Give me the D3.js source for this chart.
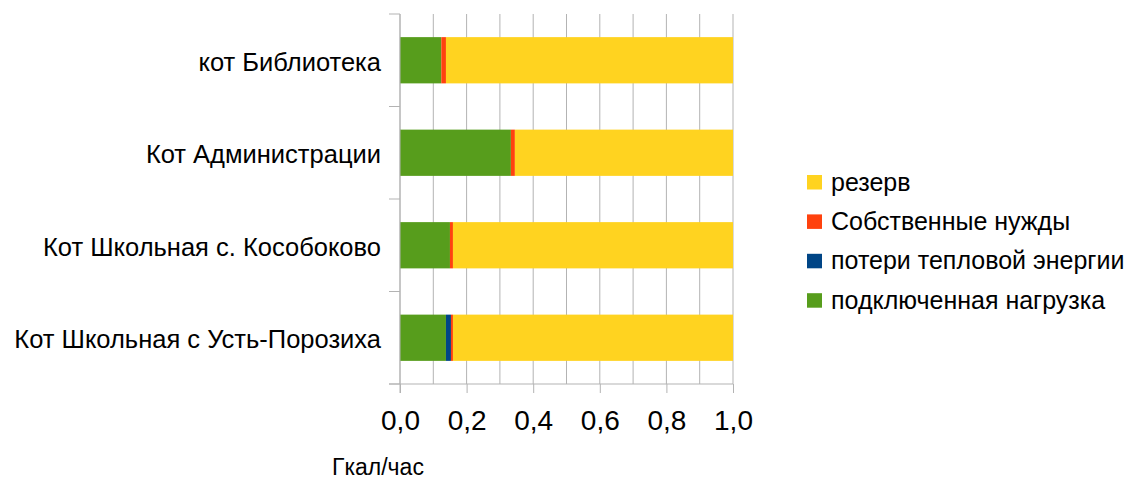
<!DOCTYPE html>
<html>
<head>
<meta charset="utf-8">
<script src="https://cdn.jsdelivr.net/npm/d3@7"></script>
<style>
  body { margin: 0; background: #fff; }
  svg { display: block; font-family: "Liberation Sans", Arial, sans-serif; }
</style>
</head>
<body>
<div id="container"></div>
<script>
let w = 1128;
let h = 479;

// data
let categories = ["кот Библиотека", "Кот Администрации", "Кот Школьная с. Кособоково", "Кот Школьная с Усть-Порозиха"];
let connectedLoad = [0.124, 0.333, 0.150, 0.138];
let heatLosses = [0.000, 0.000, 0.000, 0.015];
let ownNeeds = [0.014, 0.012, 0.009, 0.006];
let reserve = [0.862, 0.655, 0.841, 0.841];

let seriesNames = ["подключенная нагрузка", "потери тепловой энергии", "Собственные нужды", "резерв"];
let seriesColors = ["#579d1c", "#004586", "#ff420e", "#ffd320"];
let xTicks = [0, 0.2, 0.4, 0.6, 0.8, 1.0];
let gridTicks = [0, 0.1, 0.2, 0.3, 0.4, 0.5, 0.6, 0.7, 0.8, 0.9, 1.0];

let viz = d3.select("#container")
  .append("svg")
    .attr("width", w)
    .attr("height", h)
;

let rows = categories.map(function(c, i){
  return {cat: c, s0: connectedLoad[i], s1: heatLosses[i], s2: ownNeeds[i], s3: reserve[i]};
});
let keys = ["s0", "s1", "s2", "s3"];
let stacked = d3.stack().keys(keys)(rows);

let plotLeft = 400, plotRight = 733, plotTop = 14, plotBottom = 384;
let xScale = d3.scaleLinear().domain([0, 1]).range([plotLeft, plotRight]);
let yScale = d3.scaleBand().domain(categories).range([plotTop, plotBottom]).paddingInner(0.5).paddingOuter(0.25);
let bandAll = d3.scaleBand().domain(categories).range([plotTop, plotBottom]);

let gridColor = "#b3b3b3";

// vertical gridlines
viz.append("g").selectAll("line").data(gridTicks).enter()
  .append("line")
  .attr("x1", d => xScale(d)).attr("x2", d => xScale(d))
  .attr("y1", plotTop).attr("y2", plotBottom)
  .attr("stroke", gridColor).attr("stroke-width", 1);

// bars
let layers = viz.append("g").selectAll("g").data(stacked).enter()
  .append("g")
  .attr("fill", (d, i) => seriesColors[i]);

layers.selectAll("rect").data(d => d).enter()
  .append("rect")
  .attr("x", d => xScale(d[0]))
  .attr("width", d => xScale(d[1]) - xScale(d[0]))
  .attr("y", d => yScale(d.data.cat))
  .attr("height", yScale.bandwidth());

// x axis
let xAxis = d3.axisBottom(xScale).tickValues(xTicks).tickSize(9).tickPadding(17)
  .tickFormat(d => d3.format(".1f")(d).replace(".", ","));
let xAxisGroup = viz.append("g").attr("class", "xaxis")
  .attr("transform", "translate(0," + plotBottom + ")")
  .call(xAxis);
xAxisGroup.select(".domain").remove();
xAxisGroup.append("line").attr("x1", 389).attr("x2", plotRight).attr("stroke", gridColor);
xAxisGroup.selectAll(".tick line").attr("stroke", gridColor);
xAxisGroup.selectAll("text").attr("fill", "#000").attr("font-size", 28)
  .style("font-family", "Liberation Sans, Arial, sans-serif");

// y axis
let yAxisGroup = viz.append("g").attr("class", "yaxis");
yAxisGroup.append("line").attr("x1", plotLeft).attr("x2", plotLeft).attr("y1", plotTop).attr("y2", plotBottom + 9)
  .attr("stroke", gridColor);
yAxisGroup.selectAll(".ytick").data(categories).enter()
  .append("line")
  .attr("x1", 389).attr("x2", plotLeft)
  .attr("y1", d => bandAll(d) + bandAll.bandwidth()).attr("y2", d => bandAll(d) + bandAll.bandwidth())
  .attr("stroke", gridColor);
yAxisGroup.append("line").attr("x1", 389).attr("x2", plotLeft).attr("y1", plotTop).attr("y2", plotTop).attr("stroke", gridColor);
yAxisGroup.selectAll("text").data(categories).enter()
  .append("text")
  .attr("x", 381)
  .attr("y", d => yScale(d) + yScale.bandwidth() / 2)
  .attr("dy", "0.42em")
  .attr("text-anchor", "end")
  .attr("font-size", 25.5)
  .text(d => d);

// axis title
viz.append("text").attr("x", 332).attr("y", 475).attr("font-size", 23).text("Гкал/час");

// legend (reverse order)
let legendOrder = [3, 2, 1, 0];
let legend = viz.append("g").selectAll("g").data(legendOrder).enter()
  .append("g")
  .attr("transform", (d, i) => "translate(807," + (175 + i * 39.4) + ")");
legend.append("rect").attr("x", 0).attr("y", 0).attr("width", 15).attr("height", 14.5)
  .attr("fill", d => seriesColors[d]);
legend.append("text").attr("x", 24).attr("y", 15.5).attr("font-size", 25)
  .text(d => seriesNames[d]);
</script>
</body>
</html>
